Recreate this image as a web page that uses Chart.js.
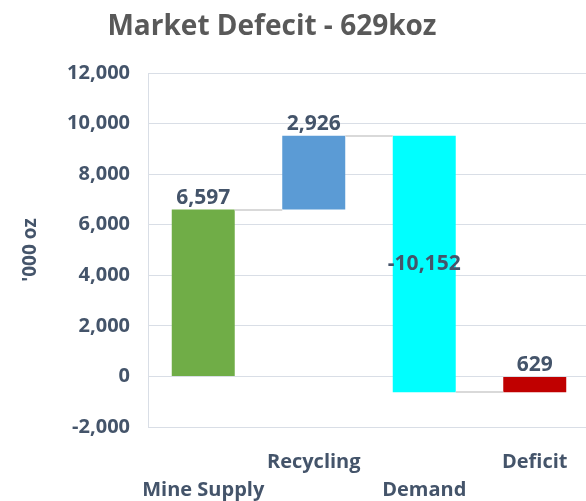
<!DOCTYPE html>
<html>
<head>
<meta charset="utf-8">
<script src="https://cdn.jsdelivr.net/npm/chart.js@4.4.0/dist/chart.umd.min.js"></script>
<style>
  html, body { margin: 0; padding: 0; background: #fff; overflow: hidden; }
</style>
</head>
<body>
<canvas id="waterfall" width="600" height="501"></canvas>
<script>
const chartTitle = 'Market Defecit - 629koz';
// staggered category labels, like the Excel axis
const categories = [['', 'Mine Supply'], ['Recycling'], ['', 'Demand'], ['Deficit']];
const changes = [6597, 2926, -10152, 629];
const barColors = ['#70AD47', '#5B9BD5', '#00FFFF', '#C00000'];
const yAxisTitle = "'000 oz";
const yMin = -2000;
const yMax = 12000;
const yStep = 2000;

const textColor = '#44546A';
const fontFamily = '"Open Sans", sans-serif';

// running totals -> floating bars [start, end]
let running = 0;
const floating = changes.map(v => {
    const start = running;
    running += v;
    return [start, running];
});

// grey step lines between bars
const connectors = {
    id: 'connectors',
    afterDatasetsDraw(chart) {
        const { ctx, scales: { y } } = chart;
        const bars = chart.getDatasetMeta(0).data;
        ctx.save();
        ctx.strokeStyle = '#D9D9D9';
        ctx.lineWidth = 2;
        for (let i = 0; i < bars.length - 1; i++) {
            const py = Math.round(y.getPixelForValue(floating[i][1]));
            ctx.beginPath();
            ctx.moveTo(bars[i].x + bars[i].width / 2, py);
            ctx.lineTo(bars[i + 1].x - bars[i + 1].width / 2, py);
            ctx.stroke();
        }
        ctx.restore();
    }
};

// value labels: above positive bars, centred in negative ones
const valueLabels = {
    id: 'valueLabels',
    afterDatasetsDraw(chart) {
        const { ctx, scales: { y } } = chart;
        const bars = chart.getDatasetMeta(0).data;
        ctx.save();
        ctx.fillStyle = textColor;
        ctx.font = 'bold 21px ' + fontFamily;
        ctx.textAlign = 'center';
        bars.forEach((bar, i) => {
            const text = changes[i].toLocaleString('en-US');
            const [a, b] = floating[i];
            if (changes[i] < 0) {
                ctx.textBaseline = 'middle';
                ctx.fillText(text, bar.x, y.getPixelForValue((a + b) / 2));
            } else {
                ctx.textBaseline = 'bottom';
                ctx.fillText(text, bar.x, y.getPixelForValue(Math.max(a, b)) - 1);
            }
        });
        ctx.restore();
    }
};

const titlePlugin = {
    id: 'titlePlugin',
    afterDraw(chart) {
        const { ctx } = chart;
        ctx.save();
        ctx.fillStyle = '#595959';
        ctx.font = 'bold 28px ' + fontFamily;
        ctx.textAlign = 'center';
        ctx.textBaseline = 'middle';
        ctx.fillText(chartTitle, 272, 27);
        ctx.restore();
    }
};

new Chart(document.getElementById('waterfall'), {
    type: 'bar',
    data: {
        labels: categories,
        datasets: [{
            data: floating,
            backgroundColor: barColors,
            borderWidth: 0,
            barPercentage: 0.57,
            categoryPercentage: 1
        }]
    },
    options: {
        responsive: false,
        animation: false,
        layout: { padding: { top: 73, right: 10, left: 0, bottom: 0 } },
        plugins: {
            legend: { display: false },
            tooltip: { enabled: false }
        },
        scales: {
            x: {
                grid: { display: false },
                border: { color: '#D9DEE6', width: 1 },
                ticks: {
                    color: textColor,
                    font: { family: fontFamily, size: 20, weight: 'bold', lineHeight: 1.4 },
                    maxRotation: 0,
                    autoSkip: false,
                    padding: 13
                },
                afterFit(scale) { scale.height = 74; }
            },
            y: {
                min: yMin,
                max: yMax,
                grid: { color: '#D9DEE6', drawTicks: false },
                border: { color: '#D9DEE6', width: 1 },
                ticks: {
                    stepSize: yStep,
                    color: textColor,
                    font: { family: fontFamily, size: 20, weight: 'bold' },
                    padding: 18,
                    callback: v => v.toLocaleString('en-US')
                },
                title: {
                    display: true,
                    text: yAxisTitle,
                    color: textColor,
                    font: { family: fontFamily, size: 19, weight: 'bold' },
                    padding: { top: 19, bottom: 0 }
                },
                afterFit(scale) { scale.width = 148; }
            }
        }
    },
    plugins: [connectors, valueLabels, titlePlugin]
});
</script>
</body>
</html>
